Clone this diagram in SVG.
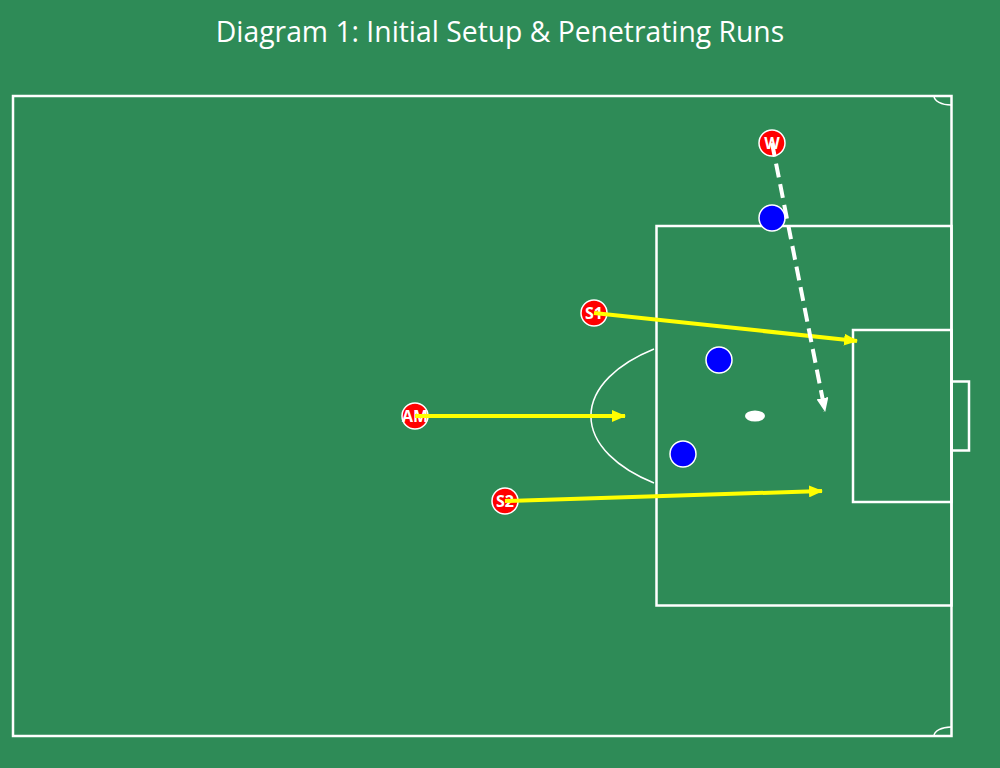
<svg xmlns="http://www.w3.org/2000/svg" width="1000" height="768" viewBox="0 0 1000 768">
<defs>
<style>
.line{fill:none;stroke:#fff;stroke-width:2.5}
.thin{fill:none;stroke:#fff;stroke-width:1.5}
.att{fill:#f00;stroke:#fff;stroke-width:1.5}
.def{fill:#00f;stroke:#fff;stroke-width:1.5}
.lbl{font-family:"Open Sans","Noto Sans",sans-serif;font-weight:bold;font-size:16px;fill:#fff;text-anchor:middle}
.run{stroke:#ff0;stroke-width:4;fill:none}
.drib{stroke:#fff;stroke-width:4;fill:none;stroke-dasharray:14,7}
</style>
<marker id="ay" markerUnits="userSpaceOnUse" markerWidth="14" markerHeight="12" refX="13" refY="6" orient="auto"><path d="M0,0 L14,6 L0,12 z" fill="#ff0"/></marker>
<marker id="aw" markerUnits="userSpaceOnUse" markerWidth="14" markerHeight="12" refX="13" refY="6" orient="auto"><path d="M0,0 L14,6 L0,12 z" fill="#fff"/></marker>
</defs>
<rect width="1000" height="768" fill="#2e8b57"/>
<text x="500" y="42" font-family="'Open Sans','Noto Sans',sans-serif" font-size="28.3" fill="#fff" text-anchor="middle">Diagram 1: Initial Setup &amp; Penetrating Runs</text>
<g id="pitch">
<rect class="line" x="13" y="96" width="938.5" height="640"/>
<rect class="line" x="656.5" y="226" width="295" height="379.5"/>
<rect class="line" x="853" y="330" width="98.5" height="172"/>
<rect class="line" x="951.5" y="381.5" width="17.5" height="69"/>
<ellipse cx="755" cy="416" rx="10" ry="5.5" fill="#fff"/>
<path class="thin" d="M654,349 A164,85 0 0,0 654,483"/>
<path class="thin" d="M934,96 A17,9 0 0,0 951,105"/>
<path class="thin" d="M934,736 A17,9 0 0,1 951,727"/>
</g>
<g id="defenders">
<circle id="d1" class="def" cx="772" cy="218" r="13"/>
<circle id="d2" class="def" cx="719" cy="360" r="13"/>
<circle id="d3" class="def" cx="683" cy="454" r="13"/>
</g>
<g id="W"><circle class="att" cx="772" cy="143" r="13"/><text class="lbl" x="772" y="149">W</text></g>
<g id="S1"><circle class="att" cx="594" cy="313" r="13"/><text class="lbl" x="594" y="319">S1</text></g>
<g id="AM"><circle class="att" cx="415" cy="416" r="13"/><text class="lbl" x="415" y="422">AM</text></g>
<g id="S2"><circle class="att" cx="505" cy="501" r="13"/><text class="lbl" x="505" y="507">S2</text></g>
<g id="connectors">
<line class="run" x1="594" y1="313" x2="857" y2="341" marker-end="url(#ay)"/>
<line class="run" x1="415" y1="416" x2="625" y2="416" marker-end="url(#ay)"/>
<line class="run" x1="505" y1="501" x2="822" y2="491" marker-end="url(#ay)"/>
<line class="drib" x1="772" y1="143" x2="825" y2="411" marker-end="url(#aw)"/>
</g>
</svg>
